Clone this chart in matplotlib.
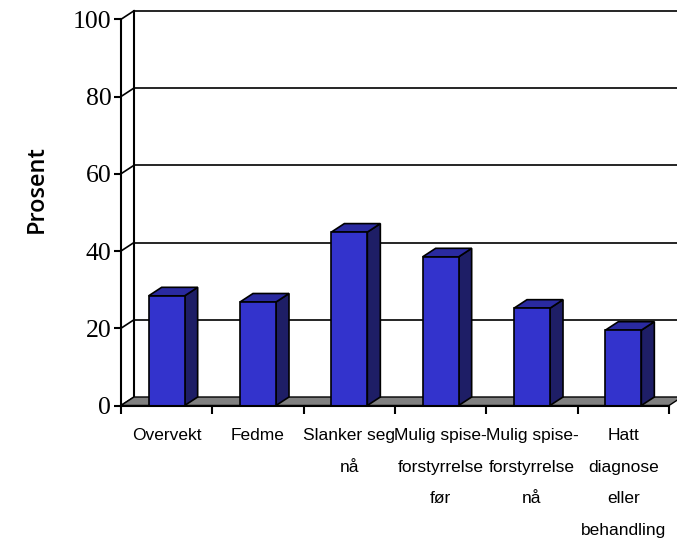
import matplotlib
matplotlib.use("Agg")
import matplotlib.pyplot as plt
from matplotlib import font_manager
from matplotlib.patches import Polygon

# data
categories = ["Overvekt", "Fedme", "Slanker seg\nnå", "Mulig spise-\nforstyrrelse\nfør",
              "Mulig spise-\nforstyrrelse\nnå", "Hatt\ndiagnose\neller\nbehandling"]
values = [28.4, 26.8, 44.9, 38.5, 25.2, 19.5]
yticks = [0, 20, 40, 60, 80, 100]

# narrow font if there is one
installed = {f.name for f in font_manager.fontManager.ttflist}
if "Liberation Sans Narrow" in installed:
    cat_font, cat_size, cat_ls = "Liberation Sans Narrow", 15, 1.85
else:
    cat_font, cat_size, cat_ls = "Liberation Sans", 12.5, 2.4

W, H = 677, 544
fig = plt.figure(figsize=(W / 100, H / 100), dpi=100)
# front plane of the plot in pixels
left, right, bottom, top = 121, 669, 405.5, 19.3
ax = fig.add_axes([left / W, 1 - bottom / H, (right - left) / W, (bottom - top) / H])
n = len(categories)
ax.set_xlim(0, n)
ax.set_ylim(0, 100)
ax.patch.set_visible(False)

# depth offset of the back wall (data units)
dx = 13 / ((right - left) / n)
dy = 8.5 / ((bottom - top) / 100)

edge = "black"
# back wall gridlines and left wall slants
for v in yticks[1:]:
    ax.plot([dx, n + dx], [v + dy, v + dy], color=edge, lw=1.2, clip_on=False, zorder=1)
for v in yticks:
    ax.plot([0, dx], [v, v + dy], color=edge, lw=1.2, clip_on=False, zorder=1)
ax.plot([dx, dx], [dy, 100 + dy], color=edge, lw=1.5, clip_on=False, zorder=1)

# floor
ax.add_patch(Polygon([(0, 0), (n, 0), (n + dx, dy), (dx, dy)], closed=True,
                     facecolor="#808080", edgecolor=edge, lw=1.0, clip_on=False, zorder=2))

# bars
bw = 36 / ((right - left) / n)
front_c, side_c, top_c = "#3333CC", "#1E1E66", "#2A2AA0"
for i, v in enumerate(values):
    x0 = i + 0.5 - bw / 2
    x1 = i + 0.5 + bw / 2
    ax.add_patch(Polygon([(x1, 0), (x1 + dx, dy), (x1 + dx, v + dy), (x1, v)],
                         facecolor=side_c, edgecolor=edge, lw=1.2, clip_on=False, zorder=3))
    ax.add_patch(Polygon([(x0, v), (x1, v), (x1 + dx, v + dy), (x0 + dx, v + dy)],
                         facecolor=top_c, edgecolor=edge, lw=1.2, clip_on=False, zorder=3))
    ax.add_patch(Polygon([(x0, 0), (x1, 0), (x1, v), (x0, v)],
                         facecolor=front_c, edgecolor=edge, lw=1.2, clip_on=False, zorder=4))

# axes
for s in ["top", "right"]:
    ax.spines[s].set_visible(False)
ax.spines["left"].set_linewidth(1.5)
ax.spines["bottom"].set_linewidth(1.5)
ax.spines["left"].set_zorder(5)
ax.spines["bottom"].set_zorder(5)

ax.set_yticks(yticks)
ax.set_yticklabels([str(t) for t in yticks], fontfamily="Liberation Serif", fontsize=18.5)
ax.tick_params(axis="y", length=5, width=1.5, pad=2)

ax.set_xticks(range(n + 1))
ax.set_xticklabels([])
ax.tick_params(axis="x", which="major", length=6, width=1.5)
ax.set_xticks([i + 0.5 for i in range(n)], minor=True)
ax.set_xticklabels(categories, minor=True, fontfamily=cat_font, fontsize=cat_size,
                   linespacing=cat_ls)
ax.tick_params(axis="x", which="minor", length=0, pad=16)

fig.text(37 / W, 1 - 189 / H, "Prosent", rotation=90, ha="center", va="center",
         fontfamily="Open Sans", fontsize=17, fontweight="semibold")

fig.savefig("out.png", dpi=100)
